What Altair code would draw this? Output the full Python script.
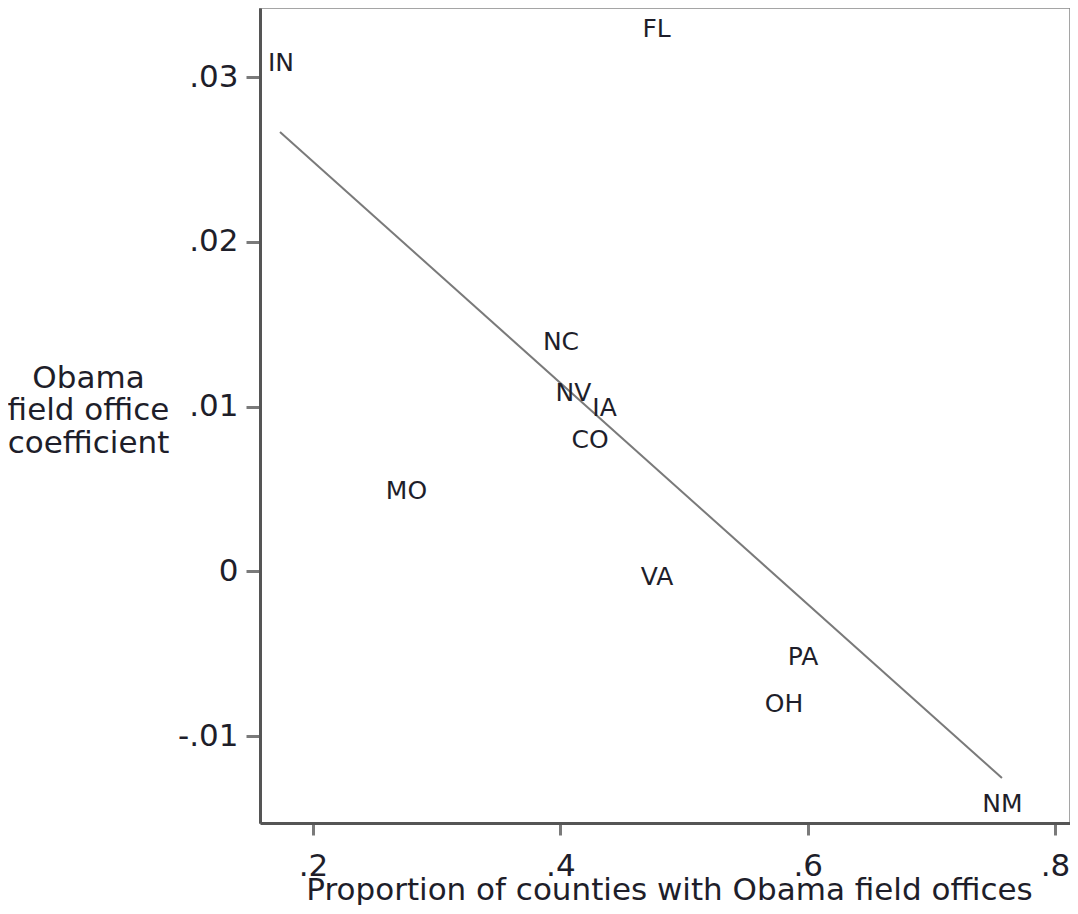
import altair as alt
import pandas as pd

# State labels and their positions
states = ["IN", "FL", "NC", "NV", "IA", "CO", "MO", "VA", "PA", "OH", "NM"]
share = [0.1741, 0.4778, 0.4005, 0.4106, 0.4357, 0.4240, 0.2756, 0.4782, 0.5962, 0.5809, 0.7575]
coef = [0.03085, 0.03291, 0.01392, 0.01085, 0.00991, 0.00797, 0.00487, -0.00035, -0.00520, -0.00806, -0.01413]

# Fitted line end points
fit_x = [0.1733, 0.7571]
fit_y = [0.02666, -0.01255]

x_ticks = [0.2, 0.4, 0.6, 0.8]
y_ticks = [-0.01, 0.0, 0.01, 0.02, 0.03]

pts = pd.DataFrame({"state": states, "share": share, "coef": coef})
fit = pd.DataFrame({"share": fit_x, "coef": fit_y})

FONT = "DejaVu Sans"
TXT = "#1e1e2a"

xscale = alt.Scale(domain=[0.15714, 0.81211], nice=False, zero=False)
yscale = alt.Scale(domain=[-0.01528, 0.03419], nice=False, zero=False)

xaxis = alt.Axis(
    values=x_ticks,
    labelExpr="substring(format(datum.value, '.1f'), 1)",
    grid=False,
    domainColor="#555555", domainWidth=3,
    tickColor="#7a7a7a", tickWidth=3, tickSize=12,
    labelFont=FONT, labelFontSize=31, labelColor=TXT,
    labelBaseline="alphabetic", labelPadding=40,
    title="Proportion of counties with Obama field offices",
    titleFont=FONT, titleFontSize=31, titleFontWeight="normal", titleColor=TXT,
    titleBaseline="alphabetic", titleAlign="center", titleX=409, titleY=76,
)

yaxis = alt.Axis(
    values=y_ticks,
    labelExpr="datum.value == 0 ? '0' : (datum.value < 0 ? '-' : '') + substring(format(abs(datum.value), '.2f'), 1)",
    grid=False,
    domainColor="#555555", domainWidth=3,
    tickColor="#7a7a7a", tickWidth=3, tickSize=14,
    labelFont=FONT, labelFontSize=31, labelColor=TXT, labelPadding=8,
    title=["Obama", "field office", "coefficient"],
    titleFont=FONT, titleFontSize=31, titleFontWeight="normal", titleColor=TXT,
    titleAngle=0, titleAlign="center", titleBaseline="alphabetic",
    titleX=-172, titleY=379, titleLineHeight=32.5,
)

line = alt.Chart(fit).mark_line(color="#7a7a7a", strokeWidth=2).encode(
    x=alt.X("share:Q", scale=xscale, axis=xaxis),
    y=alt.Y("coef:Q", scale=yscale, axis=yaxis),
)

labels = alt.Chart(pts).mark_text(
    font=FONT, fontSize=25, color=TXT, align="center", baseline="middle"
).encode(
    x=alt.X("share:Q", scale=xscale),
    y=alt.Y("coef:Q", scale=yscale),
    text="state:N",
)

chart = (
    alt.layer(line, labels)
    .properties(
        width=810,
        height=815,
        autosize=alt.AutoSizeParams(type="none"),
        padding={"left": 252, "top": 0, "right": 0, "bottom": 82},
        background="white",
    )
    .configure_view(stroke="#888888", strokeWidth=1.5)
)

chart.save("out.html", embed_options={"renderer": "svg", "actions": False})
